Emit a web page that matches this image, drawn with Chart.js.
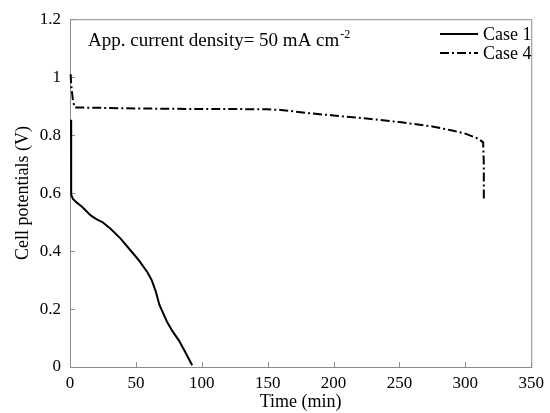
<!DOCTYPE html>
<html>
<head>
<meta charset="utf-8">
<script src="https://cdn.jsdelivr.net/npm/chart.js@4"></script>
<style>
  html, body { margin: 0; padding: 0; background: #fff; }
  #wrap { width: 550px; height: 413px; }
</style>
</head>
<body>
<div id="wrap"><canvas id="grafiek" width="550" height="413"></canvas></div>
<script>
// Case 1
const tijd1 = [0.8, 0.8, 1.0, 2.2, 5, 9.3, 15.7, 20, 24.5, 30.8, 38.4, 46, 52.3, 58.6, 62, 65, 67.8, 73.7, 78, 82.6, 87, 92.7];
const spanning1 = [0.853, 0.61, 0.595, 0.58, 0.568, 0.552, 0.523, 0.51, 0.50, 0.477, 0.443, 0.402, 0.368, 0.328, 0.300, 0.262, 0.215, 0.155, 0.122, 0.092, 0.055, 0.006];

// Case 4
const tijd4 = [0.5, 0.9, 2.3, 3.8, 10, 25, 50, 75, 100, 125, 150, 160, 170, 180, 200, 225, 250, 275, 290, 300, 310, 313.5, 314, 314];
const spanning4 = [1.01, 0.975, 0.916, 0.895, 0.895, 0.894, 0.892, 0.891, 0.89, 0.89, 0.889, 0.887, 0.882, 0.876, 0.868, 0.857, 0.845, 0.83, 0.816, 0.805, 0.787, 0.775, 0.70, 0.575];

const xTicks = [0, 50, 100, 150, 200, 250, 300, 350];
const yTicks = [0, 0.2, 0.4, 0.6, 0.8, 1, 1.2];

const serif = 'Liberation Serif';
const asGrijs = '#8c8c8c';

function punten(xs, ys) {
    return xs.map((x, i) => ({ x: x, y: ys[i] }));
}

// kader + ticks naar binnen + legenda + tekst
const extra = {
    id: 'extra',
    beforeDatasetsDraw(chart) {
        const ctx = chart.ctx;
        const a = chart.chartArea;
        const sx = chart.scales.x, sy = chart.scales.y;
        ctx.save();
        ctx.strokeStyle = asGrijs;
        ctx.lineWidth = 1;
        ctx.strokeRect(a.left + 0.5, a.top + 0.5, a.right - a.left, a.bottom - a.top);
        ctx.beginPath();
        xTicks.forEach(v => {
            const px = Math.round(sx.getPixelForValue(v)) + 0.5;
            ctx.moveTo(px, a.bottom); ctx.lineTo(px, a.bottom - 5);
        });
        yTicks.forEach(v => {
            const py = Math.round(sy.getPixelForValue(v)) + 0.5;
            ctx.moveTo(a.left, py); ctx.lineTo(a.left + 5, py);
        });
        ctx.stroke();
        ctx.restore();
    },
    afterDraw(chart) {
        const ctx = chart.ctx;
        ctx.save();
        // legenda
        ctx.font = '18px "' + serif + '"';
        ctx.textBaseline = 'middle';
        ctx.textAlign = 'left';
        chart.data.datasets.forEach((ds, i) => {
            const y = 34 + i * 19;
            ctx.strokeStyle = '#000';
            ctx.lineWidth = 2;
            ctx.setLineDash(ds.borderDash || []);
            ctx.beginPath();
            ctx.moveTo(440, y); ctx.lineTo(478, y);
            ctx.stroke();
            ctx.setLineDash([]);
            ctx.fillStyle = '#000';
            ctx.fillText(ds.label, 483, y + 1);
        });

        // annotatie
        ctx.font = '19px "' + serif + '"';
        ctx.textBaseline = 'alphabetic';
        const tekst = 'App. current density= 50 mA cm';
        ctx.fillText(tekst, 88, 46);
        const w = ctx.measureText(tekst).width;
        ctx.font = '12px "' + serif + '"';
        ctx.fillText('-2', 88 + w + 1, 38);
        ctx.restore();
    }
};

const ctx = document.getElementById('grafiek').getContext('2d');
new Chart(ctx, {
    type: 'line',
    data: {
        datasets: [{
            label: 'Case 1',
            data: punten(tijd1, spanning1),
            borderColor: '#000',
            borderWidth: 2,
            pointRadius: 0,
            tension: 0,
            clip: false,
            fill: false
        }, {
            label: 'Case 4',
            data: punten(tijd4, spanning4),
            borderColor: '#000',
            borderWidth: 2,
            borderDash: [9, 3, 2, 3],
            pointRadius: 0,
            tension: 0,
            clip: false,
            fill: false
        }]
    },
    options: {
        responsive: false,
        animation: false,
        layout: { padding: { top: 19, right: 16, left: 12, bottom: 0 } },
        plugins: {
            legend: { display: false },
            tooltip: { enabled: false }
        },
        scales: {
            x: {
                type: 'linear',
                min: 0, max: 350,
                afterBuildTicks: s => { s.ticks = xTicks.map(v => ({ value: v })); },
                afterFit: s => { s.height = 46; },
                grid: { display: false, drawTicks: false },
                border: { display: false },
                ticks: { color: '#000', padding: 6, font: { family: serif, size: 17 } },
                title: { display: true, text: 'Time (min)', color: '#000', padding: { top: 0, bottom: 0 }, font: { family: serif, size: 18 } }
            },
            y: {
                min: 0, max: 1.2,
                afterBuildTicks: s => { s.ticks = yTicks.map(v => ({ value: v })); },
                afterFit: s => { s.width = 58; },
                grid: { display: false, drawTicks: false },
                border: { display: false },
                ticks: { color: '#000', padding: 9, font: { family: serif, size: 17 }, callback: v => String(v) },
                title: { display: true, text: 'Cell potentials (V)', color: '#000', padding: { top: 0, bottom: 2 }, font: { family: serif, size: 18 } }
            }
        }
    },
    plugins: [extra]
});
</script>
</body>
</html>
